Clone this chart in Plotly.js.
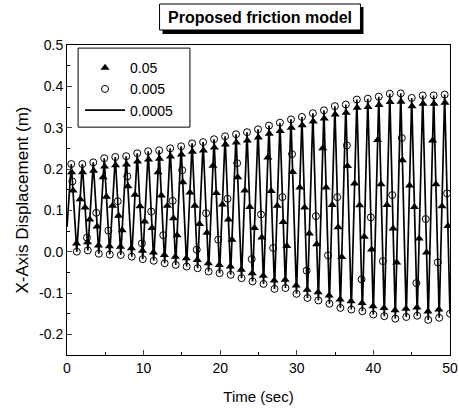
<!DOCTYPE html>
<html>
<head>
<meta charset="utf-8">
<script src="https://cdn.plot.ly/plotly-3.0.1.min.js"></script>
<style>html,body{margin:0;padding:0;background:#fff;}#chart{width:459px;height:412px;}</style>
</head>
<body>
<div id="chart"></div>
<script>
// Line series (0.0005): start point, peaks and troughs
var startT = [0.0];
var startY = [0.06];
var peakT = [0.56,2.0,3.43,4.86,6.3,7.73,9.17,10.6,12.03,13.47,14.9,16.33,17.77,19.2,20.64,22.07,23.5,24.94,26.37,27.8,29.24,30.67,32.1,33.54,34.97,36.4,37.84,39.27,40.7,42.14,43.57,45.0,46.44,47.87,49.3];
var peakY = [0.212,0.212,0.216,0.226,0.229,0.231,0.238,0.243,0.245,0.250,0.255,0.262,0.265,0.272,0.279,0.284,0.289,0.296,0.305,0.312,0.320,0.326,0.335,0.342,0.352,0.356,0.368,0.370,0.375,0.382,0.383,0.372,0.378,0.378,0.380];
var troughT = [1.28,2.72,4.15,5.58,7.02,8.45,9.89,11.32,12.75,14.19,15.62,17.05,18.49,19.92,21.36,22.79,24.22,25.66,27.09,28.52,29.96,31.39,32.82,34.26,35.69,37.12,38.56,39.99,41.42,42.86,44.29,45.72,47.16,48.59,50.0];
var troughY = [0.000,0.003,-0.005,-0.007,-0.008,-0.012,-0.018,-0.022,-0.028,-0.032,-0.036,-0.040,-0.048,-0.052,-0.056,-0.064,-0.072,-0.078,-0.090,-0.088,-0.102,-0.112,-0.118,-0.126,-0.136,-0.140,-0.144,-0.152,-0.156,-0.162,-0.158,-0.155,-0.165,-0.160,-0.150];

// Triangle markers (0.05)
var triTopT = [0.60,2.04,3.47,4.90,6.34,7.77,9.21,10.64,12.07,13.51,14.94,16.37,17.81,19.24,20.68,22.11,23.54,24.98,26.41,27.84,29.28,30.71,32.14,33.58,35.01,36.44,37.88,39.31,40.74,42.18,43.61,45.04,46.48,47.91,49.34];
var triTopY = [0.192,0.192,0.196,0.206,0.209,0.211,0.218,0.223,0.225,0.230,0.235,0.242,0.245,0.252,0.259,0.264,0.269,0.276,0.285,0.292,0.300,0.306,0.315,0.322,0.332,0.336,0.348,0.350,0.355,0.362,0.363,0.352,0.358,0.358,0.360];
var triBotT = [1.24,2.68,4.11,5.54,6.98,8.41,9.85,11.28,12.71,14.15,15.58,17.01,18.45,19.88,21.32,22.75,24.18,25.62,27.05,28.48,29.92,31.35,32.78,34.22,35.65,37.08,38.52,39.95,41.38,42.82,44.25,45.68,47.12,48.55];
var triBotY = [0.020,0.023,0.015,0.013,0.012,0.008,0.002,-0.002,-0.008,-0.012,-0.016,-0.020,-0.028,-0.032,-0.036,-0.044,-0.052,-0.058,-0.070,-0.068,-0.082,-0.092,-0.098,-0.106,-0.116,-0.120,-0.124,-0.132,-0.136,-0.142,-0.138,-0.135,-0.145,-0.140];
var triFallT = [0.78,2.36,3.93,5.15,6.73,7.95,9.53,11.10,12.32,13.90,15.12,16.69,18.27,19.49,21.07,22.29,23.86,25.44,26.66,28.23,29.46,31.03,32.60,33.83,35.40,36.62,38.20,39.77,40.99,42.57,43.79,45.36,46.94,48.16,49.73];
var triFallY = [0.148,0.107,0.061,0.133,0.087,0.158,0.110,0.057,0.136,0.081,0.168,0.111,0.046,0.142,0.078,0.180,0.108,0.034,0.147,0.072,0.193,0.107,0.018,0.155,0.059,0.207,0.112,0.005,0.163,0.056,0.221,0.108,-0.002,0.163,0.062];
var triRiseT = [1.71,2.97,4.72,5.94,7.20,8.88,10.14,11.89,13.11,14.37,16.05,17.30,19.06,20.28,21.54,23.22,24.47,26.23,27.45,28.70,30.39,31.64,33.39,34.62,35.87,37.55,38.81,40.56,41.78,43.04,44.72,45.97,47.73,48.95];
var triRiseY = [0.127,0.078,0.180,0.111,0.052,0.138,0.073,0.192,0.111,0.040,0.143,0.067,0.208,0.114,0.029,0.148,0.057,0.228,0.111,0.014,0.155,0.044,0.250,0.113,-0.013,0.165,0.036,0.270,0.113,-0.026,0.160,0.032,0.269,0.110];

// Circle markers (0.005)
var cirMidT = [0.70,2.61,3.82,5.40,6.62,7.87,9.78,10.99,12.57,13.79,15.04,16.94,18.16,19.74,20.96,22.21,24.11,25.33,26.91,28.12,29.38,31.28,32.49,34.08,35.29,36.54,38.45,39.66,41.24,42.46,43.71,45.61,46.83,48.41,49.62];
var cirMidY = [0.170,0.034,0.094,0.051,0.122,0.182,0.020,0.097,0.040,0.123,0.197,0.005,0.093,0.029,0.128,0.214,-0.018,0.090,0.009,0.132,0.236,-0.046,0.086,-0.009,0.132,0.257,-0.067,0.083,-0.023,0.137,0.275,-0.076,0.079,-0.026,0.141];

var seriesNames = ['0.05', '0.005', '0.0005'];
var xTickVals = [0, 10, 20, 30, 40, 50];
var yTickVals = [-0.2, -0.1, 0.0, 0.1, 0.2, 0.3, 0.4, 0.5];

// build line from extremes
var lineT = startT.slice(), lineY = startY.slice();
for (var i = 0; i < peakT.length; i++) {
  lineT.push(peakT[i]); lineY.push(peakY[i]);
  if (i < troughT.length) { lineT.push(troughT[i]); lineY.push(troughY[i]); }
}
var triT = triTopT.concat(triBotT, triFallT, triRiseT);
var triY = triTopY.concat(triBotY, triFallY, triRiseY);
var cirT = peakT.concat(troughT, cirMidT);
var cirY = peakY.concat(troughY, cirMidY);

var traces = [
  {x: triT, y: triY, name: seriesNames[0], mode: 'markers', type: 'scatter', cliponaxis: true,
   marker: {symbol: 'triangle-up', size: 8, color: '#000'}},
  {x: cirT, y: cirY, name: seriesNames[1], mode: 'markers', type: 'scatter', cliponaxis: true,
   marker: {symbol: 'circle-open', size: 7, color: '#000', line: {width: 1, color: '#000'}}},
  {x: lineT, y: lineY, name: seriesNames[2], mode: 'lines', type: 'scatter',
   line: {color: '#000', width: 1.7}}
];

var F = 'Liberation Sans, Arial, sans-serif';
// plot area: x 67..450, y 45..355 (pixels)
var layout = {
  width: 459, height: 412,
  margin: {l: 67, r: 9, t: 45, b: 57},
  paper_bgcolor: '#fff', plot_bgcolor: '#fff',
  font: {family: F, color: '#000', size: 13},
  showlegend: true,
  legend: {x: 0.034, y: 0.977, xanchor: 'left', yanchor: 'top', borderwidth: 0,
           bgcolor: 'rgba(0,0,0,0)', font: {family: F, size: 14, color: '#000'}, tracegroupgap: 0,
           itemwidth: 40},
  xaxis: {range: [0, 50], tickvals: xTickVals, ticktext: xTickVals.map(String), ticks: 'inside', ticklen: 5,
          showline: true, linecolor: '#000', linewidth: 1, mirror: true, showgrid: false, zeroline: false,
          tickfont: {family: F, size: 14},
          minor: {dtick: 5, ticks: 'inside', ticklen: 3, tickcolor: '#000', showgrid: false},
          title: {text: 'Time (sec)', font: {family: F, size: 15}, standoff: 16}},
  yaxis: {range: [-0.25, 0.5], tickvals: yTickVals, ticktext: yTickVals.map(function(v){return v.toFixed(1);}),
          ticks: 'inside', ticklen: 5,
          showline: true, linecolor: '#000', linewidth: 1, mirror: true, showgrid: false, zeroline: false,
          tickfont: {family: F, size: 14},
          minor: {dtick: 0.05, ticks: 'inside', ticklen: 3, tickcolor: '#000', showgrid: false},
          title: {text: 'X-Axis Displacement (m)', font: {family: F, size: 17}, standoff: 6}},
  shapes: [
    // legend frame
    {type: 'rect', xref: 'paper', yref: 'paper', x0: 0.029, x1: 0.321, y0: 0.735, y1: 0.990,
     fillcolor: 'rgba(0,0,0,0)', line: {width: 1, color: '#000'}, layer: 'above'},
    // title box shadow and box
    {type: 'rect', xref: 'paper', yref: 'paper', x0: 0.2494, x1: 0.7740, y0: 1.0355, y1: 1.1226,
     fillcolor: '#000', line: {width: 0}, layer: 'above'},
    {type: 'rect', xref: 'paper', yref: 'paper', x0: 0.2416, x1: 0.7662, y0: 1.0484, y1: 1.1323,
     fillcolor: '#fff', line: {width: 1, color: '#000'}, layer: 'above'}
  ],
  annotations: [
    {text: 'Proposed friction model', xref: 'paper', yref: 'paper', x: 0.504, y: 1.090,
     xanchor: 'center', yanchor: 'middle', showarrow: false,
     font: {family: F, size: 16, color: '#000', weight: 'bold'}}
  ]
};
Plotly.newPlot('chart', traces, layout, {staticPlot: true, displayModeBar: false});
</script>
</body>
</html>
